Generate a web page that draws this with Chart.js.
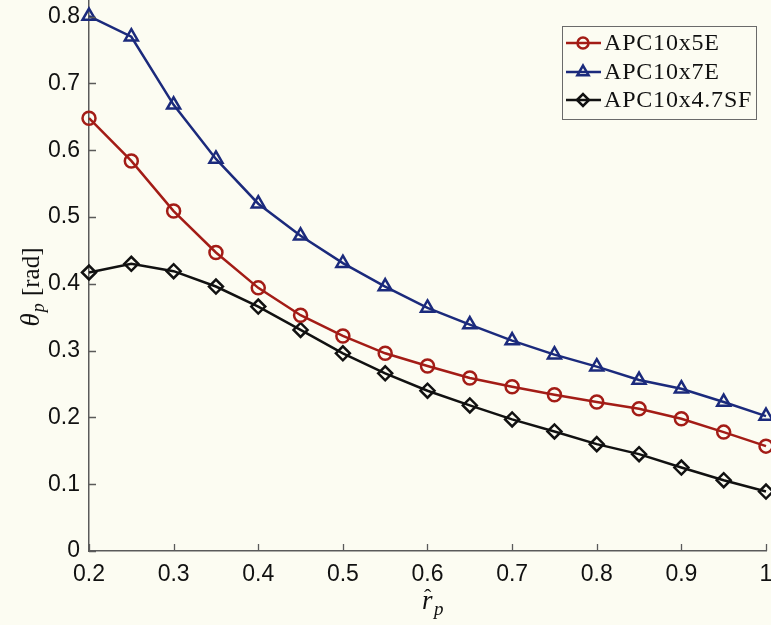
<!DOCTYPE html>
<html>
<head>
<meta charset="utf-8">
<script src="https://cdn.jsdelivr.net/npm/chart.js@4.4.1/dist/chart.umd.min.js"></script>
<style>
  html, body { margin: 0; padding: 0; background: #fcfcf2; }
  #wrap { width: 771px; height: 625px; position: relative; }
</style>
</head>
<body>
<div id="wrap"><canvas id="c" width="771" height="625"></canvas></div>
<script>
// Normalised radius r̂_p along the blade
const radius = [0.2, 0.25, 0.3, 0.35, 0.4, 0.45, 0.5, 0.55, 0.6, 0.65, 0.7, 0.75, 0.8, 0.85, 0.9, 0.95, 1.0];

// Pitch angle θ_p [rad] for each propeller
const apc10x5E   = [0.648, 0.584, 0.509, 0.447, 0.394, 0.353, 0.322, 0.296, 0.277, 0.259, 0.246, 0.234, 0.223, 0.213, 0.198, 0.178, 0.157];
const apc10x7E   = [0.801, 0.770, 0.668, 0.587, 0.520, 0.472, 0.431, 0.396, 0.364, 0.339, 0.315, 0.294, 0.276, 0.256, 0.243, 0.223, 0.202];
const apc10x47SF = [0.417, 0.430, 0.419, 0.396, 0.366, 0.331, 0.296, 0.266, 0.240, 0.218, 0.197, 0.179, 0.160, 0.145, 0.125, 0.106, 0.089];

const seriesNames = ['APC10x5E', 'APC10x7E', 'APC10x4.7SF'];
const xTicks = [0.2, 0.3, 0.4, 0.5, 0.6, 0.7, 0.8, 0.9, 1.0];
const yTicks = [0, 0.1, 0.2, 0.3, 0.4, 0.5, 0.6, 0.7, 0.8];

const BG = '#fcfcf2';
const AXIS = '#5a5a5a';

function pts(ys) { return radius.map((x, i) => ({ x: x, y: ys[i] })); }

const styles = [
  { color: '#a31c16', point: 'circle',   radius: 6.5 },
  { color: '#1b2a7c', point: 'triangle', radius: 7.5 },
  { color: '#111111', point: 'rectRot',  radius: 7 }
];
const values = [apc10x5E, apc10x7E, apc10x47SF];

const datasets = values.map((v, i) => ({
  label: seriesNames[i],
  data: pts(v),
  borderColor: styles[i].color,
  backgroundColor: 'rgba(0,0,0,0)',
  pointBorderColor: styles[i].color,
  pointBackgroundColor: 'rgba(0,0,0,0)',
  pointStyle: styles[i].point,
  pointRadius: styles[i].radius,
  pointBorderWidth: 2.5,
  borderWidth: 2.5,
  tension: 0,
  clip: false
}));

const fmt = v => (v === 0 ? '0' : (v === 1 ? '1' : v.toFixed(1)));

// Background, inward ticks, axis titles and the boxed legend
const decor = {
  id: 'decor',
  beforeDraw(chart) {
    const ctx = chart.ctx;
    ctx.save();
    ctx.fillStyle = BG;
    ctx.fillRect(0, 0, chart.width, chart.height);
    ctx.restore();
  },
  afterDraw(chart) {
    const ctx = chart.ctx;
    const xs = chart.scales.x, ys = chart.scales.y;
    const a = chart.chartArea;
    ctx.save();
    ctx.strokeStyle = AXIS;
    ctx.lineWidth = 1.3;
    ctx.beginPath();
    xTicks.forEach(t => {
      const px = Math.round(xs.getPixelForValue(t)) + 0.5;
      ctx.moveTo(px, a.bottom); ctx.lineTo(px, a.bottom - 7);
    });
    yTicks.forEach(t => {
      const py = Math.round(ys.getPixelForValue(t)) + 0.5;
      ctx.moveTo(a.left, py); ctx.lineTo(a.left + 7, py);
    });
    ctx.stroke();

    // y title: θ_p [rad]
    ctx.fillStyle = '#111';
    ctx.translate(31, 287);
    ctx.rotate(-Math.PI / 2);
    ctx.textBaseline = 'alphabetic';
    ctx.font = 'italic 27px "Liberation Serif", serif';
    const wTheta = ctx.measureText('θ').width;
    ctx.font = 'italic 18px "Liberation Serif", serif';
    const wP = ctx.measureText('p').width;
    ctx.font = '25px "Liberation Serif", serif';
    const wRad = ctx.measureText(' [rad]').width;
    let x0 = -(wTheta + wP + 2 + wRad) / 2;
    ctx.font = 'italic 27px "Liberation Serif", serif';
    ctx.fillText('θ', x0, 8);
    ctx.font = 'italic 18px "Liberation Serif", serif';
    ctx.fillText('p', x0 + wTheta + 1, 13);
    ctx.font = '25px "Liberation Serif", serif';
    ctx.fillText(' [rad]', x0 + wTheta + wP + 2, 8);
    ctx.setTransform(1, 0, 0, 1, 0, 0);

    // x title: r̂_p
    ctx.font = 'italic 27px "Liberation Serif", serif';
    const rx = 422, ry = 609;
    ctx.fillText('r', rx, ry);
    ctx.font = '22px "Liberation Serif", serif';
    ctx.fillText('ˆ', rx + 2, ry - 5);
    ctx.font = 'italic 19px "Liberation Serif", serif';
    ctx.fillText('p', rx + 12, ry + 6);

    // legend
    const lx = 562.5, ly = 26.5, lw = 194, lh = 93;
    ctx.fillStyle = BG;
    ctx.fillRect(lx, ly, lw, lh);
    ctx.strokeStyle = '#6a6a6a';
    ctx.lineWidth = 1;
    ctx.strokeRect(lx, ly, lw, lh);
    const rows = [43, 72, 100];
    chart.data.datasets.forEach((ds, i) => {
      const y = rows[i];
      ctx.strokeStyle = ds.borderColor;
      ctx.lineWidth = 2.5;
      ctx.beginPath();
      ctx.moveTo(566, y); ctx.lineTo(601, y);
      ctx.stroke();
      ctx.fillStyle = 'rgba(0,0,0,0)';
      Chart.helpers.drawPoint(ctx, {
        pointStyle: ds.pointStyle,
        radius: ds.pointRadius - 1,
        borderWidth: 2.5
      }, 583, y);
      ctx.fillStyle = '#111';
      ctx.font = '24px "Liberation Serif", serif';
      ctx.letterSpacing = '0.8px';
      ctx.textBaseline = 'middle';
      ctx.fillText(ds.label, 604, y + 1);
      ctx.letterSpacing = '0px';
    });
    ctx.restore();
  }
};

new Chart(document.getElementById('c'), {
  type: 'line',
  data: { datasets: datasets },
  plugins: [decor],
  options: {
    responsive: false,
    animation: false,
    devicePixelRatio: 1,
    layout: { autoPadding: false, padding: { top: 0, right: 5, left: 0, bottom: 0 } },
    plugins: { legend: { display: false }, tooltip: { enabled: false } },
    scales: {
      x: {
        type: 'linear',
        min: 0.2, max: 1.0,
        afterBuildTicks: s => { s.ticks = xTicks.map(v => ({ value: v })); },
        afterFit: s => { s.height = 74; s.paddingLeft = 0; s.paddingRight = 0; },
        grid: { display: true, drawOnChartArea: false, drawTicks: false },
        border: { display: true, color: AXIS, width: 1.5 },
        ticks: {
          padding: 10,
          color: '#111',
          font: { family: '"Liberation Sans", Arial, sans-serif', size: 23 },
          maxRotation: 0,
          callback: v => fmt(v)
        }
      },
      y: {
        type: 'linear',
        min: 0, max: 0.825,
        afterBuildTicks: s => { s.ticks = yTicks.map(v => ({ value: v })); },
        afterFit: s => { s.width = 89; s.paddingTop = 0; s.paddingBottom = 0; },
        grid: { display: true, drawOnChartArea: false, drawTicks: false },
        border: { display: true, color: AXIS, width: 1.5 },
        ticks: {
          padding: 9,
          color: '#111',
          font: { family: '"Liberation Sans", Arial, sans-serif', size: 23 },
          callback: v => fmt(v)
        }
      }
    }
  }
});
</script>
</body>
</html>
